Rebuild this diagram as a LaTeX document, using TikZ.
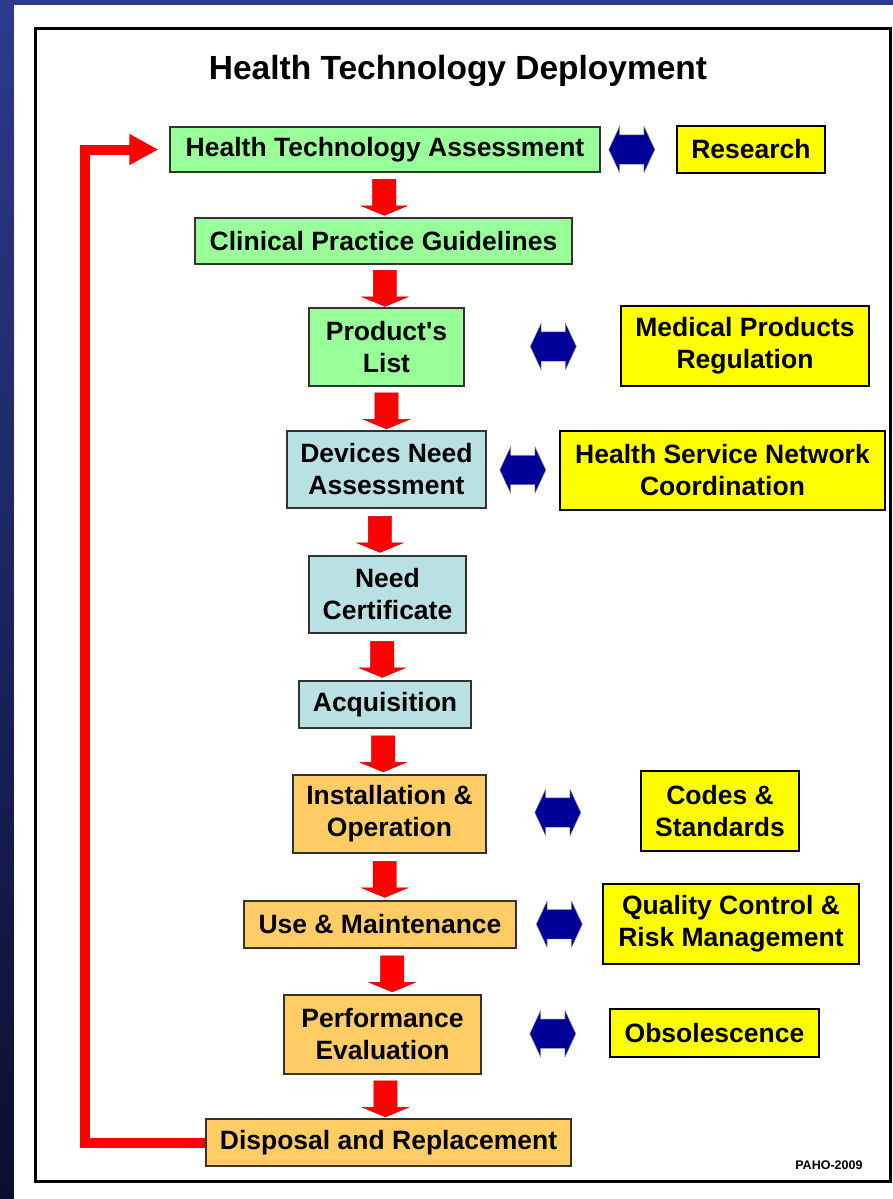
\documentclass[tikz,border=0pt]{standalone}
\usepackage{fontspec}
\setmainfont{Liberation Sans}[Ligatures=TeXOff]
\usetikzlibrary{shapes.arrows,arrows.meta,calc}
\definecolor{planGreen}{HTML}{99FF99}
\definecolor{needBlue}{HTML}{B9E0E3}
\definecolor{useOrange}{HTML}{FFCC66}
\definecolor{linkYellow}{HTML}{FFFF00}
\definecolor{linkNavy}{HTML}{000099}
\definecolor{bgTop}{HTML}{2D3A8E}
\definecolor{bgBottom}{HTML}{0B0E30}
\tikzstyle{stage} = [draw=black!80, line width=1.2pt, rectangle, inner sep=0pt, align=center, font=\fontsize{26.5}{32}\selectfont\bfseries]
\tikzstyle{planbox} = [stage, fill=planGreen]
\tikzstyle{needbox} = [stage, fill=needBlue]
\tikzstyle{usebox} = [stage, fill=useOrange]
\tikzstyle{linkbox} = [stage, fill=linkYellow, draw=black, line width=2pt]
\tikzstyle{downarrow} = [single arrow, rotate=-90, fill=red, draw=red!75!black, line width=0.4pt, inner xsep=0pt, inner ysep=11.5pt, minimum height=36pt, single arrow head extend=11.5pt, single arrow tip angle=135]
\tikzstyle{linkarrow} = [double arrow, fill=linkNavy, draw=black!45, line width=0.4pt, inner xsep=0pt, inner ysep=14.5pt, minimum height=46pt, double arrow head extend=8.5pt, double arrow tip angle=130]
\tikzstyle{loopback} = [draw=red, line width=10pt, -{Triangle[width=29pt,length=29pt]}, shorten >=11pt]

\begin{document}
\begin{tikzpicture}[x=1pt, y=-1pt]
\useasboundingbox (0,0) rectangle (893,1199);
\shade[top color=bgTop, bottom color=bgBottom] (0,0) rectangle (893,1199);
\fill[white] (14,5) rectangle (893,1199);
\draw[line width=3pt] (35,29) rectangle (890,1181);
\node[anchor=base, font=\fontsize{33.5}{40}\selectfont\bfseries] (heading) at (458,79) {Health Technology Deployment};

\node[planbox, minimum width=430pt, minimum height=45pt] (hta) at (385,149.5) {Health Technology Assessment};
\node[linkbox, minimum width=148pt, minimum height=47pt] (research) at (751,149.5) {Research};
\node[planbox, minimum width=377pt, minimum height=46pt] (cpg) at (383.5,241) {Clinical Practice Guidelines};
\node[planbox, minimum width=155pt, minimum height=78pt] (plist) at (386.5,347) {Product's\\List};
\node[linkbox, minimum width=248pt, minimum height=80pt] (mpr) at (745,346) {Medical Products\\Regulation};
\node[needbox, minimum width=199pt, minimum height=77pt] (dna) at (386.5,469.5) {Devices Need\\Assessment};
\node[linkbox, minimum width=325pt, minimum height=79pt] (hsnc) at (722.5,470.5) {Health Service Network\\Coordination};
\node[needbox, minimum width=157pt, minimum height=77pt] (cert) at (387.5,594.5) {Need\\Certificate};
\node[needbox, minimum width=172pt, minimum height=47pt] (acq) at (385,704.5) {Acquisition};
\node[usebox, minimum width=193pt, minimum height=78pt] (inst) at (389.5,814) {Installation \&\\Operation};
\node[linkbox, minimum width=158pt, minimum height=80pt] (codes) at (720,811) {Codes \&\\Standards};
\node[usebox, minimum width=272pt, minimum height=47pt] (usem) at (380,924.5) {Use \& Maintenance};
\node[linkbox, minimum width=256pt, minimum height=80pt] (qcrm) at (731,924) {Quality Control \&\\Risk Management};
\node[usebox, minimum width=197pt, minimum height=79pt] (perf) at (382.5,1034.5) {Performance\\Evaluation};
\node[linkbox, minimum width=209pt, minimum height=48pt] (obs) at (714.5,1033) {Obsolescence};
\node[usebox, minimum width=365pt, minimum height=47pt] (disp) at (388.5,1142.5) {Disposal and Replacement};

\node[downarrow] (flow1) at ($(hta.south)!.5!(cpg.north)$) {};
\node[downarrow] (flow2) at ($(cpg.south)!.5!(plist.north)$) {};
\node[downarrow] (flow3) at ($(plist.south)!.5!(dna.north)$) {};
\node[xshift=-7pt, downarrow] (flow4) at ($(dna.south)!.5!(cert.north)$) {};
\node[xshift=-4pt, downarrow] (flow5) at ($(cert.south)!.5!(acq.north)$) {};
\node[xshift=-4pt, downarrow] (flow6) at ($(acq.south)!.5!(inst.north)$) {};
\node[downarrow] (flow7) at ($(inst.south)!.5!(usem.north)$) {};
\node[xshift=11pt, downarrow] (flow8) at ($(usem.south)!.5!(perf.north)$) {};
\node[downarrow] (flow9) at ($(perf.south)!.5!(disp.north)$) {};

\node[xshift=-6.5pt, linkarrow] (link1) at ($(hta.east)!.5!(research.west)$) {};
\node[xshift=11pt, linkarrow] (link2) at ($(plist.east)!.5!(mpr.west)$) {};
\node[linkarrow] (link3) at ($(dna.east)!.5!(hsnc.west)$) {};
\node[xshift=-5.5pt, linkarrow] (link4) at ($(inst.east)!.5!(codes.west)$) {};
\node[linkarrow] (link5) at ($(usem.east)!.5!(qcrm.west)$) {};
\node[xshift=7.5pt, linkarrow] (link6) at ($(perf.east)!.5!(obs.west)$) {};

\coordinate (turn) at (85,0);
\draw[loopback] (disp.west) -- (disp.west -| turn) |- (hta.west);

\node[anchor=base east, font=\fontsize{12.5}{15}\selectfont\bfseries] (credit) at (866,1169) {PAHO-2009};
\end{tikzpicture}
\end{document}
